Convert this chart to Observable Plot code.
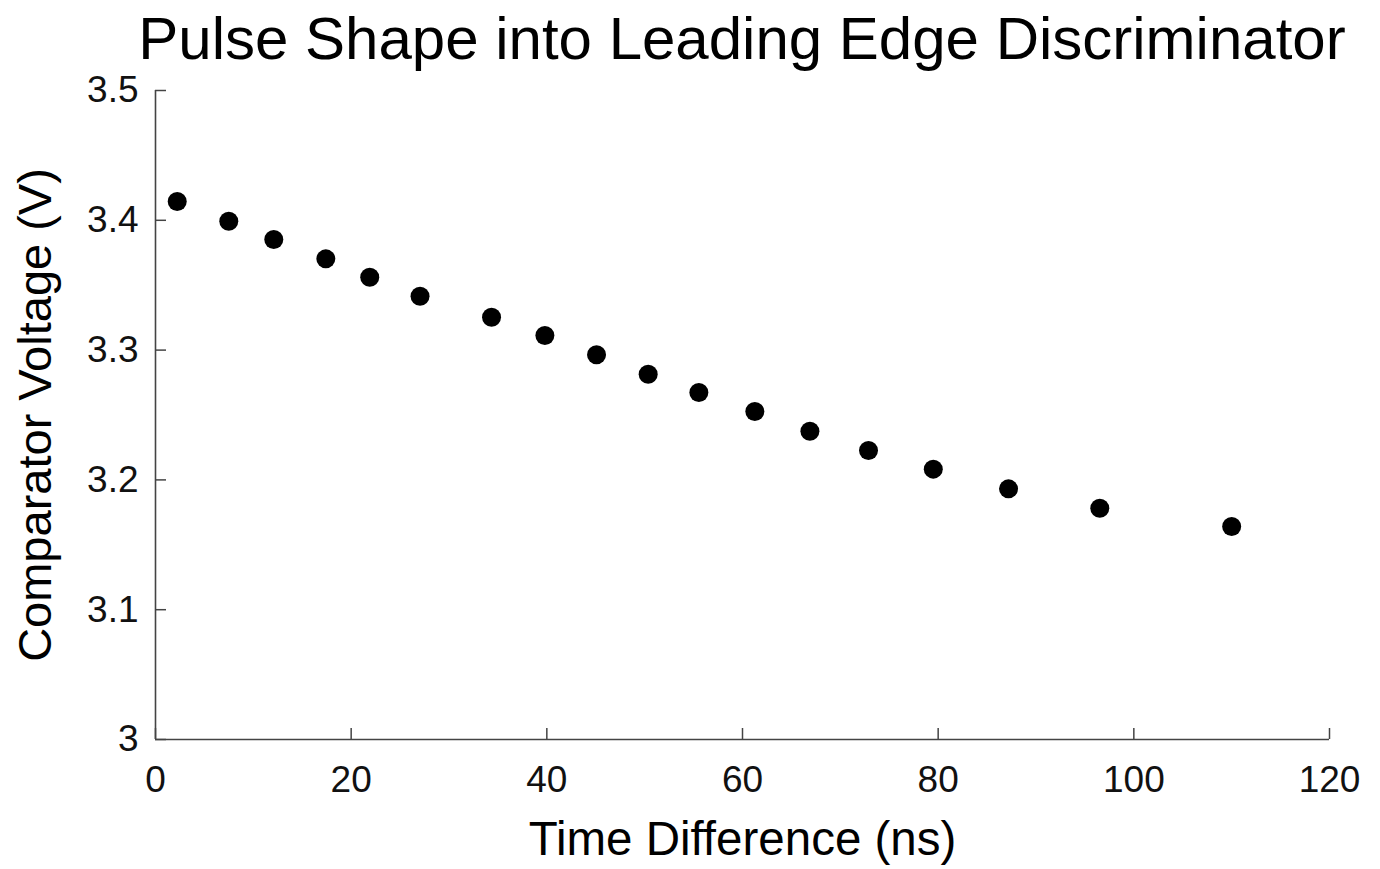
<!DOCTYPE html>
<html>
<head>
<meta charset="utf-8">
<script src="https://cdn.jsdelivr.net/npm/d3@7"></script>
<script src="https://cdn.jsdelivr.net/npm/@observablehq/plot@0.6"></script>
<style>
  html, body { margin: 0; padding: 0; background: #fff; }
  #title {
    width: 1276px; padding-left: 104px; height: 61px; padding-top: 9px;
    font-family: "Liberation Sans", Arial, sans-serif; font-size: 60px; line-height: 1;
    text-align: center; color: #000; white-space: nowrap;
  }
  #chart svg { display: block; }
</style>
</head>
<body>
<div id="title">Pulse Shape into Leading Edge Discriminator</div>
<div id="chart"></div>
<script>
const timeDiff = [2.22, 7.49, 12.09, 17.41, 21.90, 27.04, 34.35, 39.80, 45.08, 50.36, 55.54, 61.26, 66.89, 72.88, 79.50, 87.19, 96.52, 110.0];
const voltage  = [3.4145, 3.3993, 3.3852, 3.3703, 3.3561, 3.3415, 3.3253, 3.3112, 3.2964, 3.2814, 3.2673, 3.2527, 3.2375, 3.2227, 3.2083, 3.1931, 3.1782, 3.1641];
const xTicks = [0, 20, 40, 60, 80, 100, 120];
const yTicks = [3, 3.1, 3.2, 3.3, 3.4, 3.5];
const xLabel = "Time Difference (ns)";
const yLabel = "Comparator Voltage (V)";

const points = timeDiff.map((t, i) => ({t, v: voltage[i]}));

const axisColor = "#444";
const plot = Plot.plot({
  width: 1380,
  height: 799,
  marginTop: 20,
  marginBottom: 130,
  marginLeft: 155,
  marginRight: 51,
  style: {fontFamily: "'Liberation Sans', Arial, sans-serif", color: "#111", background: "#fff", overflow: "visible"},
  x: {domain: [0, 120]},
  y: {domain: [3, 3.5]},
  marks: [
    Plot.ruleX([0], {stroke: axisColor, strokeWidth: 1.6}),
    Plot.ruleY([3], {stroke: axisColor, strokeWidth: 1.6}),
    Plot.axisX(xTicks, {anchor: "bottom", tickSize: 11, dy: -11, tickPadding: 26, fontSize: 37, stroke: axisColor, strokeWidth: 1.5, label: null, tickFormat: d => String(d)}),
    Plot.axisY(yTicks, {anchor: "left", tickSize: 11, dx: 11, tickPadding: 17, fontSize: 37, stroke: axisColor, strokeWidth: 1.5, label: null, tickFormat: d => d === 3 ? "3" : d.toFixed(1)}),
    Plot.dot(points, {x: "t", y: "v", r: 9.5, fill: "#000", stroke: null}),
    Plot.text([xLabel], {frameAnchor: "bottom", dy: 115, lineAnchor: "bottom", textAnchor: "middle", fontSize: 47.5, fill: "#000"}),
    Plot.text([yLabel], {frameAnchor: "left", dx: -105, rotate: -90, lineAnchor: "bottom", textAnchor: "middle", fontSize: 47, fill: "#000"})
  ]
});
document.getElementById("chart").appendChild(plot);
</script>
</body>
</html>
